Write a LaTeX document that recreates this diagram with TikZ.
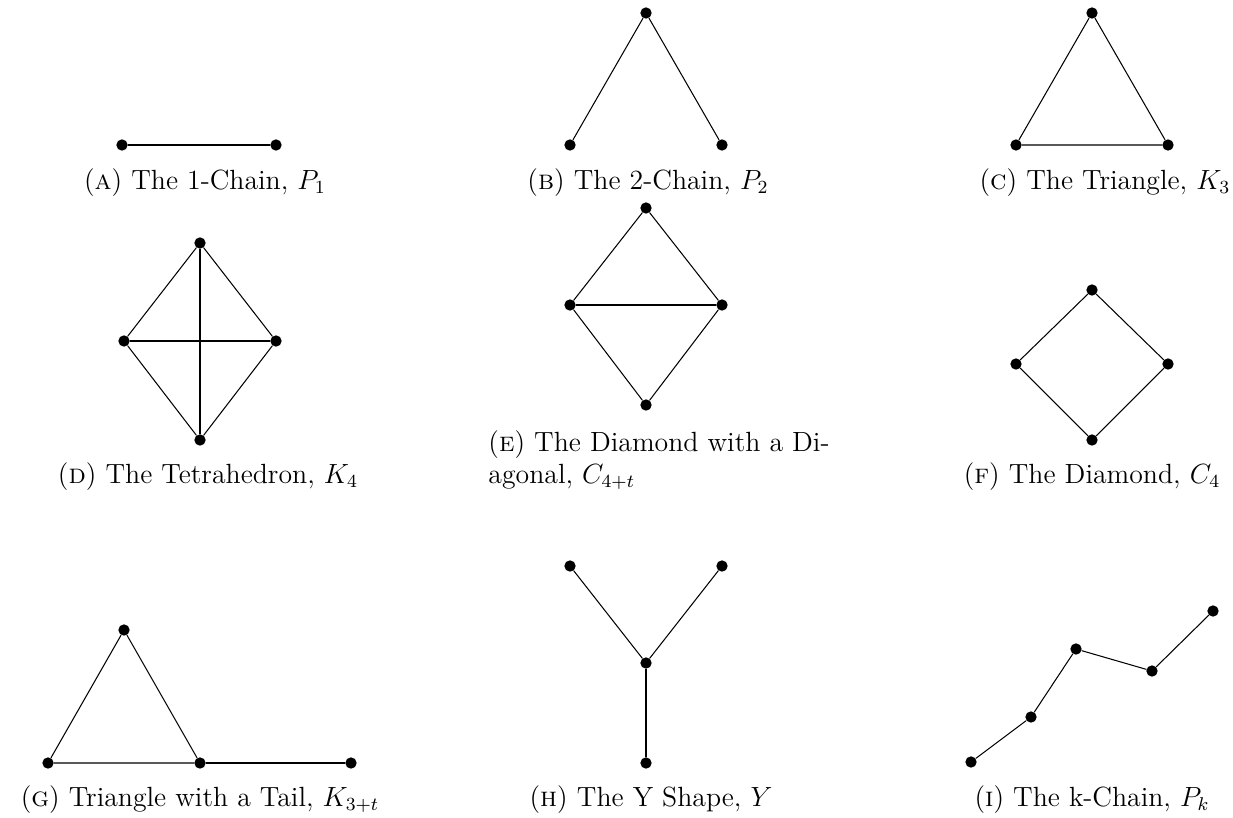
\documentclass[tikz,border=0pt,12pt]{standalone}
\usepackage{amsmath, amssymb}
\usepackage{xcolor}
\usepackage{tikz}

\begin{document}
\begin{tikzpicture}[
                x=0.432pt,
                y=-0.432pt,
                line cap=round,
                line join=round,
                vertex/.style={circle, fill=black, inner sep=0pt, minimum size=4.9pt},
                edge/.style={line width=0.45pt},
                subcap/.style={inner sep=0pt, anchor=base}
            ]
            \useasboundingbox (0,0) rectangle (1233,817);

            % (a) the 1-chain
            \node[vertex] (a1) at (122,145) {};
            \node[vertex] (a2) at (276,145) {};
            \draw[edge] (a1) -- (a2);
            \node[subcap] (capa) at (205,189) {(\textsc{a}) The 1-Chain, $P_1$};

            % (b) the 2-chain
            \node[vertex] (b1) at (646,13) {};
            \node[vertex] (b2) at (570,145) {};
            \node[vertex] (b3) at (722,145) {};
            \draw[edge] (b2) -- (b1) -- (b3);
            \node[subcap] (capb) at (648,189) {(\textsc{b}) The 2-Chain, $P_2$};

            % (c) the triangle
            \node[vertex] (c1) at (1092,13) {};
            \node[vertex] (c2) at (1016,145) {};
            \node[vertex] (c3) at (1168,145) {};
            \draw[edge] (c1) -- (c2) -- (c3) -- (c1);
            \node[subcap] (capc) at (1105,189) {(\textsc{c}) The Triangle, $K_3$};

            % (d) the tetrahedron
            \node[vertex] (d1) at (200,243) {};
            \node[vertex] (d2) at (124,341) {};
            \node[vertex] (d3) at (276,341) {};
            \node[vertex] (d4) at (200,440) {};
            \draw[edge] (d1) -- (d2) -- (d4) -- (d3) -- (d1);
            \draw[edge] (d1) -- (d4);
            \draw[edge] (d2) -- (d3);
            \node[subcap] (capd) at (208,483) {(\textsc{d}) The Tetrahedron, $K_4$};

            % (e) the diamond with a diagonal
            \node[vertex] (e1) at (646,208) {};
            \node[vertex] (e2) at (570,305) {};
            \node[vertex] (e3) at (722,305) {};
            \node[vertex] (e4) at (646,405) {};
            \draw[edge] (e1) -- (e2) -- (e4) -- (e3) -- (e1);
            \draw[edge] (e2) -- (e3);
            \node[inner sep=0pt, anchor=base west, align=left] (cape) at (488,483)
                {(\textsc{e}) The Diamond with a Di-\\[-1.1pt]agonal, $C_{4+t}$};

            % (f) the diamond
            \node[vertex] (f1) at (1092,290) {};
            \node[vertex] (f2) at (1016,364) {};
            \node[vertex] (f3) at (1168,364) {};
            \node[vertex] (f4) at (1092,440) {};
            \draw[edge] (f1) -- (f2) -- (f4) -- (f3) -- (f1);
            \node[subcap] (capf) at (1092,483) {(\textsc{f}) The Diamond, $C_4$};

            % (g) triangle with a tail
            \node[vertex] (g1) at (124,630) {};
            \node[vertex] (g2) at (48,763) {};
            \node[vertex] (g3) at (200,763) {};
            \node[vertex] (g4) at (351,763) {};
            \draw[edge] (g1) -- (g2) -- (g3) -- (g1);
            \draw[edge] (g3) -- (g4);
            \node[subcap] (capg) at (200,806) {(\textsc{g}) Triangle with a Tail, $K_{3+t}$};

            % (h) the Y shape
            \node[vertex] (h1) at (570,566) {};
            \node[vertex] (h2) at (722,566) {};
            \node[vertex] (h3) at (646,663) {};
            \node[vertex] (h4) at (646,763) {};
            \draw[edge] (h1) -- (h3) -- (h2);
            \draw[edge] (h3) -- (h4);
            \node[subcap] (caph) at (651,806) {(\textsc{h}) The Y Shape, $Y$};

            % (i) the k-chain
            \node[vertex] (i1) at (971,762) {};
            \node[vertex] (i2) at (1031,717) {};
            \node[vertex] (i3) at (1076,649) {};
            \node[vertex] (i4) at (1152,671) {};
            \node[vertex] (i5) at (1213,611) {};
            \draw[edge] (i1) -- (i2) -- (i3) -- (i4) -- (i5);
            \node[subcap] (capi) at (1092,806) {(\textsc{i}) The k-Chain, $P_k$};
        \end{tikzpicture}
\end{document}
